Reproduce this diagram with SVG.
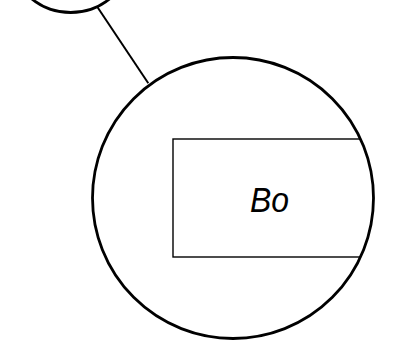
<svg xmlns="http://www.w3.org/2000/svg" width="393" height="352" viewBox="0 0 393 352">
<style>
.c{fill:none;stroke:#000;stroke-width:2.8}
.r{fill:none;stroke:#000;stroke-width:1.4}
.l{stroke:#000;stroke-width:2}
.t{font-family:"Liberation Sans",Arial,sans-serif;font-style:italic;font-size:35px;fill:#000}
</style>
<defs>
<clipPath id="cp"><circle cx="233" cy="198" r="140.5"/></clipPath>
</defs>
<rect width="393" height="352" fill="#fff"/>
<g id="connectors">
<line class="l" x1="96.7" y1="6" x2="148.3" y2="83.3"/>
</g>
<g id="node-small">
<circle class="c" cx="70.7" cy="-49.7" r="62.2"/>
</g>
<g id="node-big">
<circle class="c" cx="233" cy="198" r="140.5"/>
<g id="node-Bo" clip-path="url(#cp)">
<rect class="r" x="173" y="139" width="220" height="118"/>
<text class="t" x="269.5" y="212" text-anchor="middle" textLength="39" lengthAdjust="spacingAndGlyphs">Bo</text>
</g>
</g>
</svg>
